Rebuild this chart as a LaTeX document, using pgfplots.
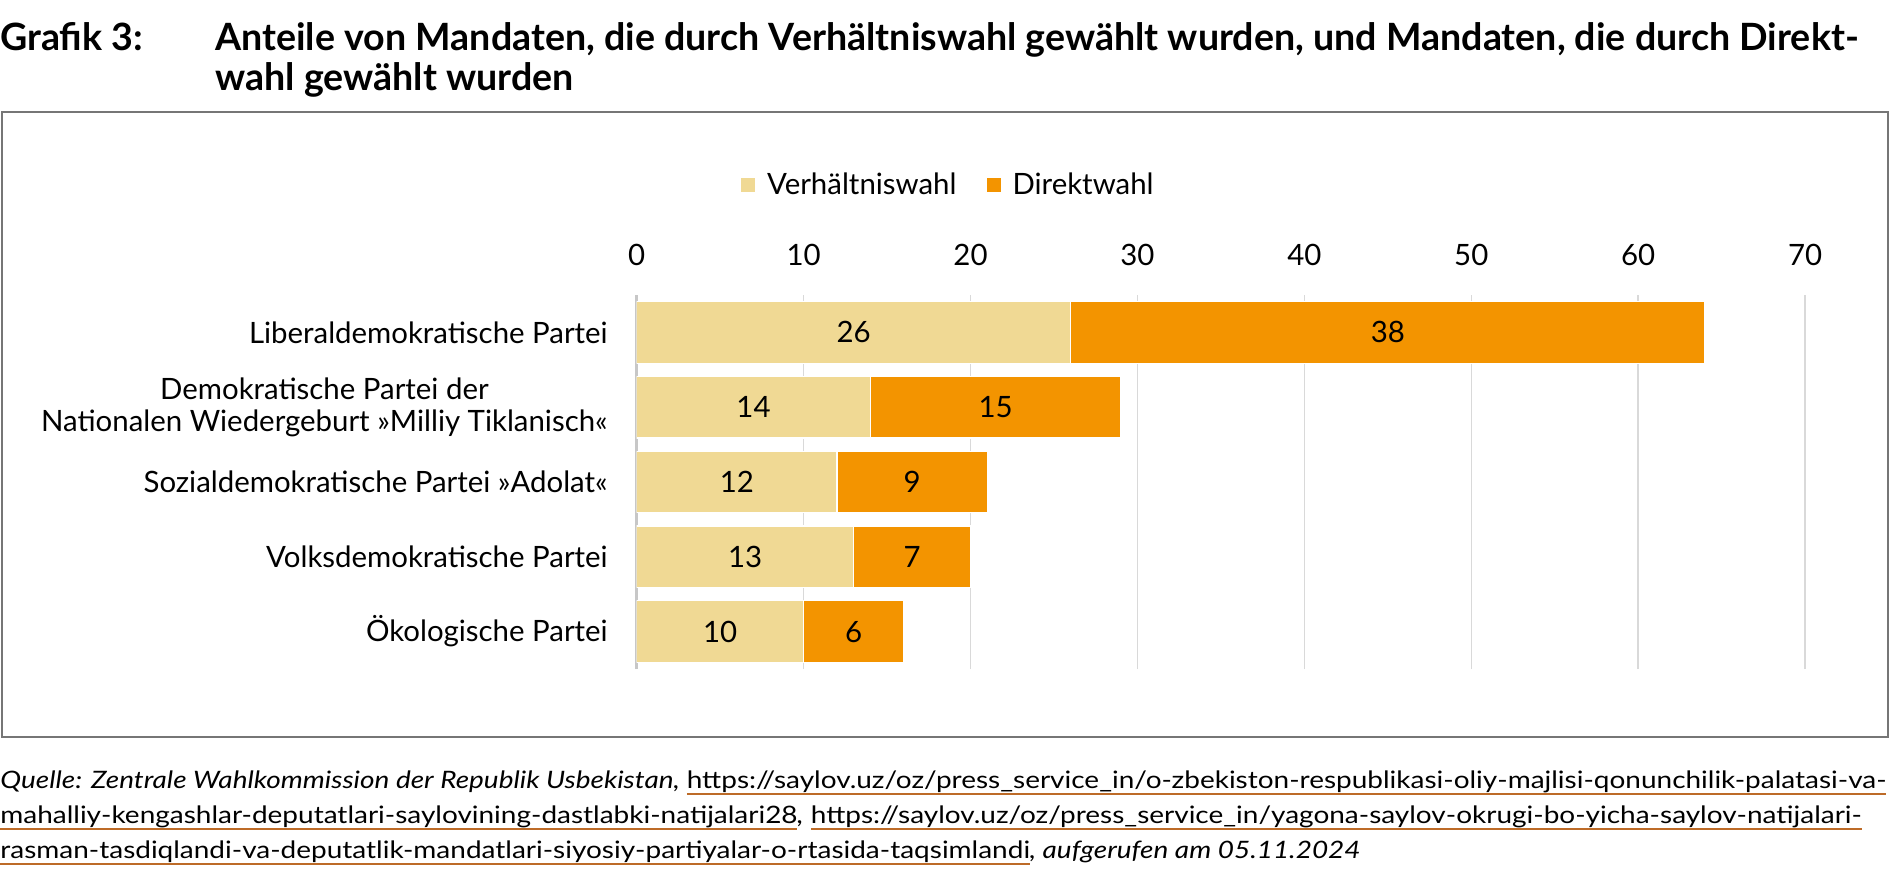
\documentclass[border=0pt]{standalone}
\usepackage{fontspec}
\setmainfont{Lato}
\usepackage{graphicx}
\usepackage{pgfplots}
\usepackage{pgfplotstable}
\pgfplotsset{compat=1.18}
\definecolor{lightbar}{RGB}{240,217,148}
\definecolor{orangebar}{RGB}{243,148,0}
\definecolor{linkc}{RGB}{189,107,40}
\definecolor{framec}{RGB}{118,118,118}
\newsavebox\srcbox
\newcommand\ul[1]{\setbox0\hbox{#1}\rlap{\color{linkc}\rule[-3.3pt]{\wd0}{0.9pt}}\box0}
\newcommand\srcfont{\fontsize{12}{17.5}\selectfont}
\newcommand\lblfont{\fontsize{14.7}{16.3}\selectfont}
\newcommand\ttlfont{\fontsize{18.8}{20}\selectfont\bfseries}
\pgfplotstableread{
y v d
4 26 38
3 14 15
2 12 9
1 13 7
0 10 6
}\mandate
\begin{document}
\begin{tikzpicture}
\path[use as bounding box] (0,0) rectangle (945pt,437pt);
% title
\node[anchor=base west, inner sep=0pt, font=\ttlfont] at (0pt,411.7pt) {Grafik 3:};
\node[anchor=base west, inner sep=0pt, font=\ttlfont] at (107.5pt,411.7pt) {Anteile von Mandaten, die durch Verhältniswahl gewählt wurden, und Mandaten, die durch Direkt-};
\node[anchor=base west, inner sep=0pt, font=\ttlfont] at (107.5pt,391.7pt) {wahl gewählt wurden};
% frame
\draw[framec, line width=1pt] (1pt,68.5pt) rectangle (944pt,381pt);
\begin{axis}[
  scale only axis,
  width=584.2pt, height=187pt,
  at={(318.35pt,102.5pt)}, anchor=south west,
  xbar stacked,
  bar width=30.85pt,
  xmin=0, xmax=70,
  ymin=-0.5, ymax=4.5,
  xtick={0,10,...,70},
  xticklabel pos=upper,
  ytick={0,1,2,3,4},
  yticklabels={Ökologische Partei, Volksdemokratische Partei, Sozialdemokratische Partei »Adolat«, {Demokratische Partei der\\Nationalen Wiedergeburt »Milliy Tiklanisch«}, Liberaldemokratische Partei},
  axis line style={draw=none},
  major tick length=0pt,
  xmajorgrids,
  major grid style={color=black!15, line width=0.7pt},
  extra x ticks={0},
  extra x tick labels={},
  extra x tick style={xmajorgrids=true, major grid style={color=black!22, line width=1.6pt}},
  xticklabel style={inner sep=0pt, anchor=base, yshift=15pt, font=\lblfont},
  yticklabel style={inner sep=0pt, anchor=east, xshift=-14.3pt, align=center, font=\lblfont},
  /pgf/number format/assume math mode=true,
  legend columns=2,
  legend style={draw=none, at={(0.271,1.294)}, anchor=center, font=\lblfont,
    /tikz/every even column/.append style={column sep=9pt},
    nodes={inner xsep=6pt}},
  legend image code/.code={\fill[#1, draw=none] (0pt,-3.5pt) rectangle (7pt,3.5pt);},
  nodes near coords,
  point meta=explicit,
  nodes near coords style={anchor=center, font=\lblfont, /pgf/number format/assume math mode=true},
]
\addplot[fill=lightbar, draw=white, line width=0.6pt]
  table[x=v, y=y, meta=v] {\mandate};
\addplot[fill=orangebar, draw=white, line width=0.6pt]
  table[x=d, y=y, meta=d] {\mandate};
\legend{Verhältniswahl, Direktwahl}
\end{axis}
% source
\node[anchor=base west, inner sep=0pt] at (0pt,43pt) {\srcfont\sbox\srcbox{\itshape Quelle: Zentrale Wahlkommission der Republik Usbekistan,\upshape\ \ul{https://saylov.uz/oz/press\_service\_in/o-zbekiston-respublikasi-oliy-majlisi-qonunchilik-palatasi-va-}}\pgfmathsetmacro\sx{943/\the\wd\srcbox}\global\let\srcsx\sx\scalebox{\srcsx}[1]{\usebox\srcbox}};
\node[anchor=base west, inner sep=0pt] at (0pt,25.5pt) {\srcfont\scalebox{\srcsx}[1]{\ul{mahalliy-kengashlar-deputatlari-saylovining-dastlabki-natijalari28}\textit{,} \ul{https://saylov.uz/oz/press\_service\_in/yagona-saylov-okrugi-bo-yicha-saylov-natijalari-}}};
\node[anchor=base west, inner sep=0pt] at (0pt,8pt) {\srcfont\scalebox{\srcsx}[1]{\ul{rasman-tasdiqlandi-va-deputatlik-mandatlari-siyosiy-partiyalar-o-rtasida-taqsimlandi}\textit{, aufgerufen am 05.11.2024}}};
\end{tikzpicture}
\end{document}
